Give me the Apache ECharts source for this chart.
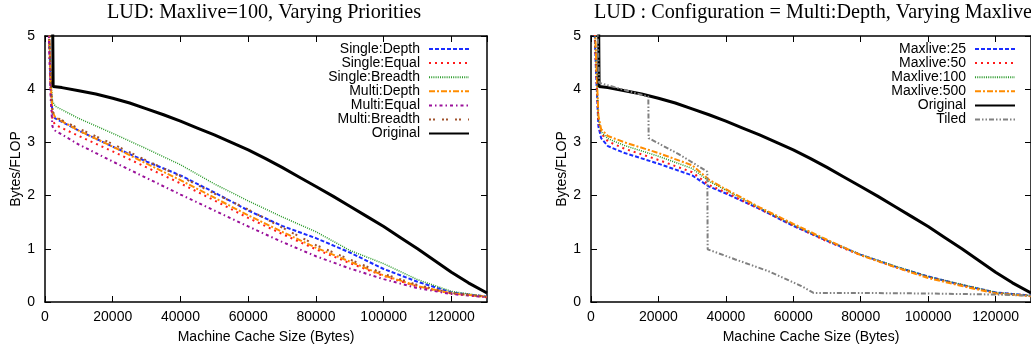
<!DOCTYPE html>
<html>
<head>
<meta charset="utf-8">
<script src="https://cdn.jsdelivr.net/npm/echarts@6/dist/echarts.min.js"></script>
<style>
  html, body { margin: 0; padding: 0; background: #fff; }
  #chart { width: 1031px; height: 349px; }
</style>
</head>
<body>
<div id="chart"></div>
<script>
// ---------- data ----------
const TITLE_LEFT = 'LUD: Maxlive=100, Varying Priorities';
const TITLE_RIGHT = 'LUD : Configuration = Multi:Depth, Varying Maxlive';
const X_NAME = 'Machine Cache Size (Bytes)';
const Y_NAME = 'Bytes/FLOP';

// Original (shared by both panels)
const ORIG_X = [2200, 2400, 5000, 10000, 15000, 20000, 25000, 30000, 35000, 40000, 45000, 50000, 55000, 60000, 65000, 70000, 75000, 80000, 85000, 90000, 95000, 100000, 105000, 110000, 115000, 120000, 125000, 130500];
const ORIG_Y = [5.8, 4.05, 4.03, 3.97, 3.91, 3.83, 3.74, 3.63, 3.52, 3.40, 3.27, 3.14, 3.00, 2.86, 2.70, 2.53, 2.35, 2.17, 1.99, 1.80, 1.61, 1.42, 1.21, 1.00, 0.78, 0.56, 0.36, 0.17];

// Left panel: varying priorities
const PRIO_X = [1000, 1700, 2200, 3000, 10000, 20000, 30000, 40000, 50000, 60000, 70000, 80000, 90000, 100000, 110000, 120000, 130500];
const SINGLE_DEPTH   = [5.5, 4.0, 3.55, 3.45, 3.22, 2.92, 2.64, 2.38, 2.06, 1.72, 1.43, 1.20, 0.93, 0.62, 0.38, 0.18, 0.10];
const SINGLE_EQUAL   = [5.4, 3.9, 3.42, 3.33, 3.12, 2.83, 2.53, 2.23, 1.91, 1.58, 1.28, 0.99, 0.73, 0.49, 0.29, 0.16, 0.09];
const SINGLE_BREADTH = [5.6, 4.2, 3.78, 3.68, 3.45, 3.17, 2.88, 2.58, 2.22, 1.90, 1.60, 1.32, 0.97, 0.72, 0.42, 0.20, 0.10];
const MULTI_DEPTH    = [5.6, 4.1, 3.58, 3.47, 3.22, 2.92, 2.60, 2.29, 1.96, 1.63, 1.32, 1.02, 0.76, 0.50, 0.30, 0.16, 0.10];
const MULTI_EQUAL    = [5.3, 3.8, 3.30, 3.22, 2.96, 2.64, 2.33, 2.02, 1.72, 1.42, 1.13, 0.86, 0.63, 0.43, 0.26, 0.15, 0.09];
const MULTI_BREADTH  = [5.6, 4.1, 3.60, 3.48, 3.26, 2.97, 2.66, 2.36, 2.04, 1.74, 1.40, 1.07, 0.80, 0.53, 0.32, 0.17, 0.10];

// Right panel: varying maxlive
const ML_X = [800, 1500, 2200, 3000, 5000, 10000, 20000, 30000, 35000, 40000, 50000, 60000, 70000, 80000, 90000, 100000, 110000, 120000, 130500];
const MAXLIVE_25  = [5.6, 4.3, 3.30, 3.08, 2.93, 2.80, 2.60, 2.38, 2.17, 2.04, 1.75, 1.43, 1.15, 0.89, 0.67, 0.48, 0.32, 0.18, 0.12];
const MAXLIVE_50  = [5.6, 4.4, 3.40, 3.17, 3.02, 2.88, 2.67, 2.44, 2.20, 2.06, 1.75, 1.44, 1.14, 0.88, 0.66, 0.47, 0.32, 0.17, 0.12];
const MAXLIVE_100 = [5.7, 4.5, 3.45, 3.20, 3.07, 2.94, 2.74, 2.51, 2.27, 2.10, 1.77, 1.45, 1.16, 0.89, 0.68, 0.48, 0.33, 0.18, 0.12];
const MAXLIVE_500 = [5.8, 4.6, 3.50, 3.25, 3.12, 3.00, 2.80, 2.57, 2.30, 2.12, 1.78, 1.47, 1.17, 0.88, 0.66, 0.45, 0.30, 0.16, 0.11];

const TILED_X = [1500, 2000, 2400, 17000, 17100, 26000, 34500, 34600, 42800, 52600, 62400, 66000, 80000, 100000, 120000, 130500];
const TILED_Y = [6.0, 5.0, 4.12, 3.86, 3.08, 2.78, 2.45, 0.99, 0.80, 0.58, 0.30, 0.17, 0.17, 0.16, 0.14, 0.12];

const X_MAX = 130500;
const Y_MAX = 5;

// ---------- styles ----------
const SANS = 'Liberation Sans';
const SERIF = 'Liberation Serif';
const STY = {
  'Single:Depth':   { color: '#1a2cff', type: [4, 2], width: 2 },
  'Single:Equal':   { color: '#ff1a1a', type: [2, 4], width: 2 },
  'Single:Breadth': { color: '#2a9a2a', type: [1, 1.2], width: 1.5 },
  'Multi:Depth':    { color: '#ff8c00', type: [6, 2, 2, 2], width: 2 },
  'Multi:Equal':    { color: '#9a109a', type: [3, 3, 1.5, 3], width: 2 },
  'Multi:Breadth':  { color: '#a0522d', type: [2, 2, 2, 7], width: 2 },
  'Original':       { color: '#000000', type: 'solid', width: 3 },
  'Maxlive:25':     { color: '#1a2cff', type: [4, 2], width: 2 },
  'Maxlive:50':     { color: '#ff1a1a', type: [2, 4], width: 2 },
  'Maxlive:100':    { color: '#2a9a2a', type: [1, 1.2], width: 1.5 },
  'Maxlive:500':    { color: '#ff8c00', type: [6, 2, 2, 2], width: 2 },
  'Tiled':          { color: '#808080', type: [5, 2, 1.5, 2, 1.5, 2], width: 2 }
};

function pairs(xs, ys) { return xs.map((x, i) => [x, ys[i]]); }

function mkSeries(name, xs, ys, idx, z) {
  const s = STY[name];
  return {
    name: name, type: 'line', xAxisIndex: idx, yAxisIndex: idx,
    data: pairs(xs, ys), showSymbol: false, symbol: 'none', clip: true,
    z: z || 2,
    lineStyle: { color: s.color, width: s.width, type: s.type },
    itemStyle: { color: s.color },
    emphasis: { disabled: true }, animation: false
  };
}

const axLine = { show: true, onZero: false, lineStyle: { color: '#000', width: 1.5 } };
const axTick = { show: true, inside: true, length: 6, lineStyle: { color: '#000', width: 1 } };
const lblStyle = { color: '#000', fontFamily: SANS, fontSize: 14 };
const plain = v => String(v);

function xAxes(gi) {
  return [
    { gridIndex: gi, type: 'value', min: 0, max: X_MAX, interval: 20000, position: 'bottom',
      axisLine: axLine, axisTick: axTick, splitLine: { show: false },
      axisLabel: Object.assign({ margin: 8, showMaxLabel: false, formatter: plain }, lblStyle),
      name: X_NAME, nameLocation: 'middle', nameGap: 28,
      nameTextStyle: { color: '#000', fontFamily: SANS, fontSize: 14 } },
    { gridIndex: gi, type: 'value', min: 0, max: X_MAX, interval: 20000, position: 'top',
      axisLine: axLine, axisTick: axTick, splitLine: { show: false }, axisLabel: { show: false } }
  ];
}
function yAxes(gi) {
  return [
    { gridIndex: gi, type: 'value', min: 0, max: Y_MAX, interval: 1, position: 'left',
      axisLine: axLine, axisTick: axTick, splitLine: { show: false },
      axisLabel: Object.assign({ margin: 10, formatter: plain }, lblStyle),
      name: Y_NAME, nameLocation: 'middle', nameGap: 21,
      nameTextStyle: { color: '#000', fontFamily: SANS, fontSize: 14 } },
    { gridIndex: gi, type: 'value', min: 0, max: Y_MAX, interval: 1, position: 'right',
      axisLine: axLine, axisTick: axTick, splitLine: { show: false }, axisLabel: { show: false } }
  ];
}

const leftNames = ['Single:Depth', 'Single:Equal', 'Single:Breadth', 'Multi:Depth', 'Multi:Equal', 'Multi:Breadth', 'Original'];
const rightNames = ['Maxlive:25', 'Maxlive:50', 'Maxlive:100', 'Maxlive:500', 'Original', 'Tiled'];

function mkLegend(names, right) {
  return {
    data: names, orient: 'vertical', align: 'right', right: right, top: 42,
    padding: 0, itemGap: 0.1, itemWidth: 40, itemHeight: 14,
    selectedMode: false,
    itemStyle: { opacity: 0 },
    textStyle: { color: '#000', fontFamily: SANS, fontSize: 14, padding: [0, 4, 0, 0] }
  };
}

const series = [
  mkSeries('Single:Depth', PRIO_X, SINGLE_DEPTH, 0),
  mkSeries('Single:Equal', PRIO_X, SINGLE_EQUAL, 0),
  mkSeries('Single:Breadth', PRIO_X, SINGLE_BREADTH, 0),
  mkSeries('Multi:Depth', PRIO_X, MULTI_DEPTH, 0),
  mkSeries('Multi:Equal', PRIO_X, MULTI_EQUAL, 0),
  mkSeries('Multi:Breadth', PRIO_X, MULTI_BREADTH, 0),
  mkSeries('Original', ORIG_X, ORIG_Y, 0, 3),
  mkSeries('Maxlive:25', ML_X, MAXLIVE_25, 2),
  mkSeries('Maxlive:50', ML_X, MAXLIVE_50, 2),
  mkSeries('Maxlive:100', ML_X, MAXLIVE_100, 2),
  mkSeries('Maxlive:500', ML_X, MAXLIVE_500, 2),
  mkSeries('Original', ORIG_X, ORIG_Y, 2, 3),
  mkSeries('Tiled', TILED_X, TILED_Y, 2, 4)
];

const chart = echarts.init(document.getElementById('chart'), null, { renderer: 'canvas' });
chart.setOption({
  animation: false,
  backgroundColor: '#ffffff',
  title: [
    { text: TITLE_LEFT, left: 107, top: 3, padding: 0,
      textStyle: { fontFamily: SERIF, fontSize: 20.2, fontWeight: 'normal', color: '#000' } },
    { text: TITLE_RIGHT, left: 594, top: 3, padding: 0,
      textStyle: { fontFamily: SERIF, fontSize: 20.2, fontWeight: 'normal', color: '#000' } }
  ],
  grid: [
    { left: 45, top: 36, width: 442, height: 267, containLabel: false },
    { left: 591, top: 36, width: 443, height: 267, containLabel: false }
  ],
  xAxis: xAxes(0).concat(xAxes(1)),
  yAxis: yAxes(0).concat(yAxes(1)),
  legend: [mkLegend(leftNames, 1031 - 470), mkLegend(rightNames, 1031 - 1016)],
  tooltip: { show: false },
  series: series
});
</script>
</body>
</html>
